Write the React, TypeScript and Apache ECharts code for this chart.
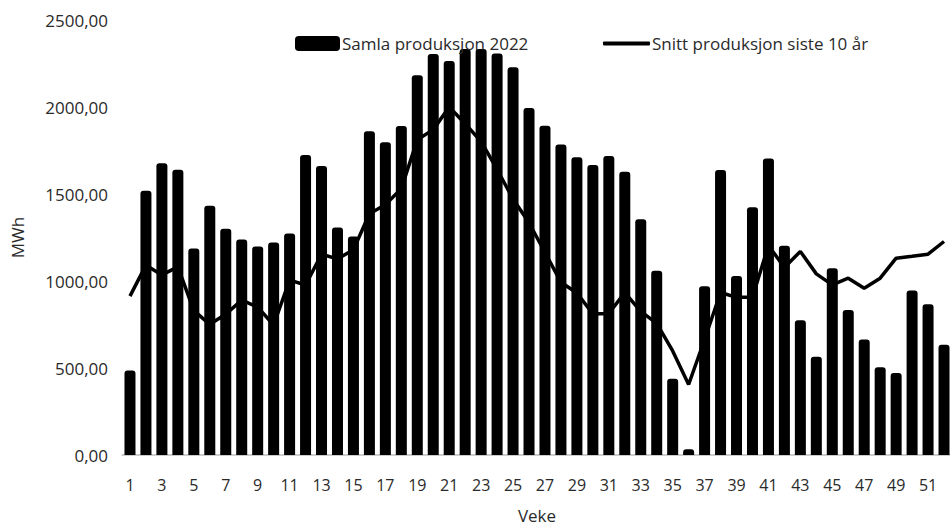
import React, { useEffect, useRef } from "react";
import * as echarts from "echarts";

const weeks: string[] = Array.from({ length: 52 }, (_, i) => String(i + 1));

const production2022: number[] = [
  485, 1518, 1677, 1640, 1187, 1433, 1301, 1238, 1198, 1221,
  1273, 1724, 1661, 1307, 1256, 1861, 1798, 1891, 2183, 2304,
  2264, 2334, 2334, 2307, 2228, 1994, 1892, 1785, 1711, 1667,
  1719, 1628, 1355, 1059, 438, 33, 970, 1638, 1029, 1424,
  1704, 1203, 775, 565, 1073, 834, 664, 505, 471, 946,
  867, 634,
];

const avg10Years: number[] = [
  913, 1091, 1035, 1081, 830, 751, 809, 890, 850, 747,
  1005, 977, 1154, 1127, 1180, 1386, 1438, 1531, 1812, 1870,
  2000, 1904, 1801, 1641, 1471, 1335, 1164, 993, 931, 811,
  813, 933, 825, 757, 598, 405, 664, 934, 906, 907,
  1204, 1078, 1170, 1041, 978, 1016, 958, 1016, 1131, 1142,
  1154, 1227,
];

const seriesNames = ["Samla produksjon 2022", "Snitt produksjon siste 10 år"];

export default function App() {
  const ref = useRef<HTMLDivElement>(null);

  useEffect(() => {
    if (!ref.current) return;
    const chart = echarts.init(ref.current, null, { renderer: "svg" });
    const font = "'Open Sans', sans-serif";
    const textColor = "#2a2a2a";
    chart.setOption({
      animation: false,
      backgroundColor: "#ffffff",
      textStyle: { fontFamily: font },
      legend: [
        {
          data: [{ name: seriesNames[0], icon: "roundRect" }],
          left: 290,
          top: 30,
          itemWidth: 45,
          itemHeight: 15,
          textStyle: { fontFamily: font, fontSize: 17, color: textColor, padding: [0, 0, 0, -3] },
        },
        {
          data: [{ name: seriesNames[1], icon: "roundRect" }],
          left: 598,
          top: 30,
          itemWidth: 47,
          itemHeight: 4,
          textStyle: { fontFamily: font, fontSize: 17, color: textColor, padding: [0, 0, 0, -3] },
        },
      ],
      grid: { left: 122, right: 8, top: 20, bottom: 70 },
      xAxis: {
        type: "category",
        data: weeks,
        name: "Veke",
        nameLocation: "middle",
        nameGap: 52,
        nameTextStyle: { fontFamily: font, fontSize: 17, color: textColor },
        axisLine: { show: true, lineStyle: { color: "#bdbdbd", width: 1.5 } },
        axisTick: { show: false },
        axisLabel: { interval: 1, margin: 22, fontFamily: font, fontSize: 16, color: textColor },
      },
      yAxis: {
        type: "value",
        min: 0,
        max: 2500,
        interval: 500,
        name: "MWh",
        nameLocation: "middle",
        nameGap: 96,
        nameTextStyle: { fontFamily: font, fontSize: 17, color: textColor },
        axisLine: { show: false },
        axisTick: { show: false },
        splitLine: { show: false },
        axisLabel: {
          margin: 14,
          fontFamily: font,
          fontSize: 17,
          color: textColor,
          formatter: (v: number) => v.toFixed(2).replace(".", ","),
        },
      },
      series: [
        {
          name: seriesNames[0],
          type: "bar",
          data: production2022,
          barWidth: 11,
          itemStyle: { color: "#000000", borderRadius: [3, 3, 0, 0] },
        },
        {
          name: seriesNames[1],
          type: "line",
          data: avg10Years,
          showSymbol: false,
          symbol: "none",
          lineStyle: { color: "#000000", width: 3.5 },
          itemStyle: { color: "#000000" },
        },
      ],
    });
    return () => chart.dispose();
  }, []);

  return (
    <div style={{ position: "fixed", left: 0, top: 0, width: 950, height: 529, overflow: "hidden", background: "#fff" }}>
      <div ref={ref} style={{ width: 960, height: 529 }} />
    </div>
  );
}
